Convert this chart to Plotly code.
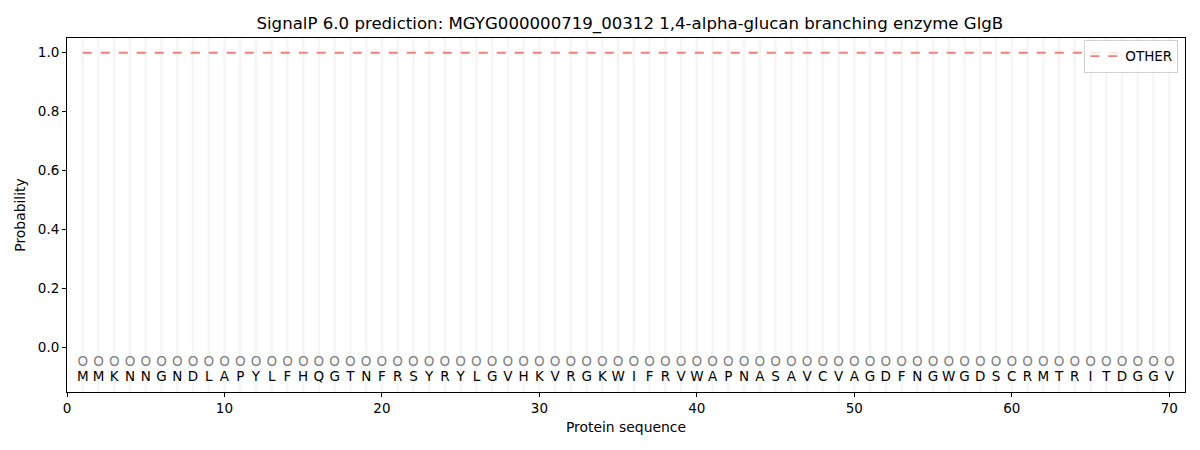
import plotly.graph_objects as go

# ---- data ----
title = "SignalP 6.0 prediction: MGYG000000719_00312 1,4-alpha-glucan branching enzyme GlgB"
sequence = list("MMKNNGNDLAPYLFHQGTNFRSYRYLGVHKVRGKWIFRVWAPNASAVCVAGDFNGWGDSCRMTRITDGGV")
positions = list(range(1, len(sequence) + 1))
labels = ["O"] * len(sequence)
prob_other = [1.0] * len(sequence)

FONT = "DejaVu Sans"

fig = go.Figure()

# light vertical guide line at every residue
for p in positions:
    fig.add_shape(type="line", x0=p, x1=p, y0=0, y1=1, xref="x", yref="paper",
                  line=dict(color="rgba(200,200,200,0.18)", width=2.5), layer="below")

fig.add_trace(go.Scatter(
    x=positions, y=prob_other, mode="lines", name="OTHER",
    line=dict(color="rgba(240,128,128,1)", width=1.8, dash="dash"),
))

# predicted label row
fig.add_trace(go.Scatter(
    x=positions, y=[-0.05] * len(positions), mode="text", text=labels,
    textfont=dict(family=FONT, size=13.5, color="grey"), showlegend=False, hoverinfo="skip",
))
# residue row
fig.add_trace(go.Scatter(
    x=positions, y=[-0.102] * len(positions), mode="text", text=sequence,
    textfont=dict(family=FONT, size=13.5, color="black"), showlegend=False, hoverinfo="skip",
))

# page body has an 8px margin, so the figure is a bit smaller than the window
fig.update_layout(
    width=1192, height=442,
    margin=dict(l=59, r=15, t=30, b=58),
    paper_bgcolor="white", plot_bgcolor="white",
    font=dict(family=FONT, size=13.5, color="black"),
    title=dict(text=title, x=0.5217, xanchor="center", y=0.966, yanchor="middle",
               font=dict(family=FONT, size=16.6)),
    showlegend=True,
    legend=dict(x=0.994, y=0.995, xanchor="right", yanchor="top",
                bgcolor="rgba(255,255,255,0.8)", bordercolor="#d0d0d0", borderwidth=1,
                font=dict(family=FONT, size=13.5)),
)

fig.update_xaxes(
    range=[0, 71], tickmode="array", tickvals=[0, 10, 20, 30, 40, 50, 60, 70],
    ticks="outside", ticklen=4, tickcolor="black", showgrid=False, zeroline=False,
    showline=True, linecolor="black", linewidth=1, mirror=True, automargin=False,
    title=dict(text="Protein sequence", font=dict(family=FONT, size=13.9), standoff=7),
)
fig.update_yaxes(
    range=[-0.15, 1.05], tickmode="array", tickvals=[0, 0.2, 0.4, 0.6, 0.8, 1.0],
    tickformat=".1f", ticks="outside", ticklen=4, tickcolor="black",
    showgrid=False, zeroline=False, automargin=False,
    showline=True, linecolor="black", linewidth=1, mirror=True,
    title=dict(text="Probability", font=dict(family=FONT, size=13.9), standoff=8),
)

fig.write_html("out.html")
